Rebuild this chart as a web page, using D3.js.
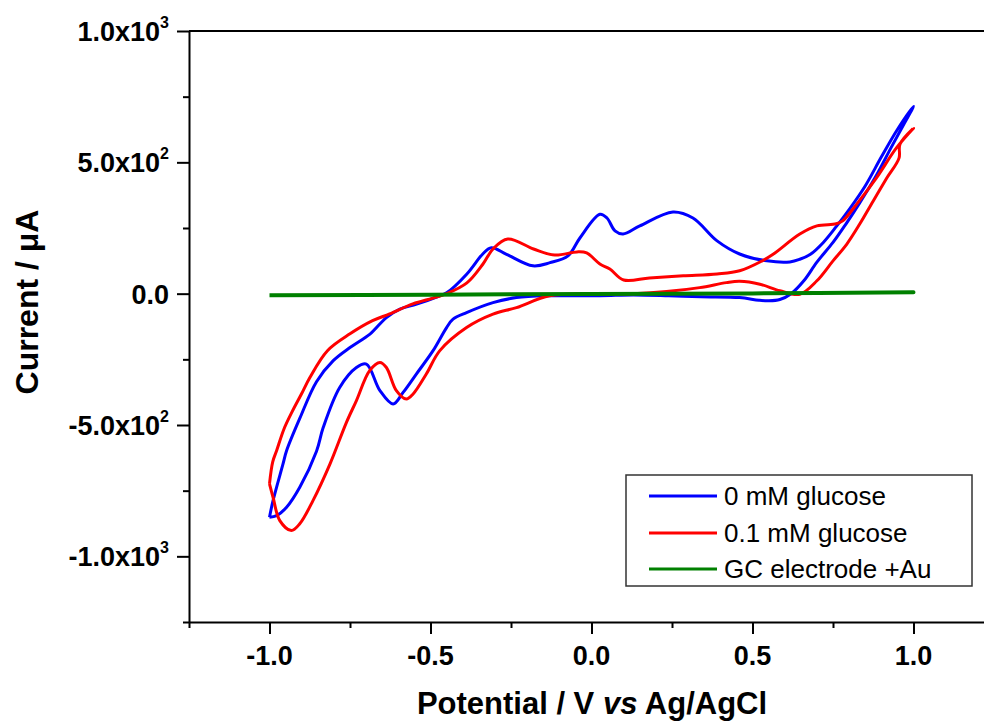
<!DOCTYPE html>
<html>
<head>
<meta charset="utf-8">
<script src="https://cdn.jsdelivr.net/npm/d3@7"></script>
<style>
  body { margin: 0; background: #fff; }
  svg { display: block; font-family: "Liberation Sans", Arial, sans-serif; }
</style>
</head>
<body>
<div id="chart"></div>
<script>
// 0 mM glucose (blue): forward scan then reverse scan
const blueV = [-1.0, -0.989, -0.958, -0.947, -0.906, -0.854, -0.802, -0.75, -0.688, -0.637, -0.595, -0.543, -0.471, -0.45,
  -0.387, -0.337, -0.311, -0.264, -0.182, -0.129, -0.073, -0.036, 0.026, 0.048, 0.073, 0.098, 0.15, 0.253, 0.315, 0.39,
  0.46, 0.545, 0.616, 0.647, 0.68, 0.72, 0.76, 0.80, 0.85, 0.90, 0.95, 1.0,
  0.97, 0.93, 0.88, 0.83, 0.79, 0.75, 0.70, 0.66, 0.62, 0.585, 0.55, 0.52, 0.46, 0.34, 0.24, 0.13, 0.026, -0.13, -0.233,
  -0.306, -0.388, -0.43, -0.45, -0.492, -0.544, -0.585, -0.616, -0.657, -0.699, -0.73, -0.782, -0.833, -0.854, -0.906,
  -0.947, -0.978, -1.0];
const blueI = [-851, -788, -648, -598, -475, -335, -255, -205, -154, -91, -59, -40, -8, 3,
  75, 152, 175, 150, 106, 118, 144, 212, 302, 288, 239, 227, 258, 311, 288, 201,
  151, 125, 121, 131, 150, 195, 255, 320, 410, 520, 625, 713,
  645, 555, 440, 340, 265, 195, 120, 50, 0, -22, -27, -25, -15, -12, -8, -5, -8, -8, -15,
  -34, -72, -97, -129, -217, -306, -376, -420, -369, -268, -281, -357, -509, -600, -737,
  -813, -845, -851];

// 0.1 mM glucose (red)
const redV = [-1.0, -0.99, -0.978, -0.955, -0.93, -0.9, -0.875, -0.82, -0.75, -0.68, -0.627, -0.555, -0.49, -0.45,
  -0.387, -0.337, -0.306, -0.26, -0.18, -0.114, -0.045, -0.015, 0.026, 0.057, 0.1, 0.18, 0.285, 0.39, 0.46, 0.53,
  0.564, 0.647, 0.70, 0.76, 0.78, 0.823, 0.885, 0.947, 1.0,
  0.958, 0.955, 0.917, 0.875, 0.833, 0.793, 0.75, 0.70, 0.647, 0.585, 0.523, 0.46, 0.419, 0.336, 0.233, 0.13, 0.026,
  -0.13, -0.233, -0.306, -0.388, -0.471, -0.513, -0.554, -0.575, -0.606, -0.637, -0.657, -0.689, -0.73, -0.761, -0.812,
  -0.865, -0.906, -0.932, -0.968, -0.989, -1.0];
const redI = [-724, -640, -598, -515, -450, -380, -320, -217, -153, -103, -77, -39, -16, 0,
  41, 113, 170, 208, 170, 147, 159, 155, 113, 94, 52, 60, 68, 75, 87, 125,
  150, 227, 258, 266, 277, 340, 441, 555, 630,
  569, 516, 440, 353, 265, 189, 125, 49, -2, 11, 36, 47, 42, 23, 8, 0, -2,
  -8, -53, -78, -129, -217, -306, -382, -401, -369, -281, -262, -293, -407, -490, -648,
  -788, -876, -902, -864, -775, -724];

// GC electrode +Au (green)
const greenV = [-1.0, -0.5, 0.0, 0.5, 1.0, 0.5, 0.0, -0.5, -1.0];
const greenI = [-6, -4, -1, 1, 5, 1, -1, -4, -6];

const seriesNames = ["0 mM glucose", "0.1 mM glucose", "GC electrode +Au"];
const seriesColors = ["#0000ff", "#ff0000", "#008000"];

const xMajor = [-1.0, -0.5, 0.0, 0.5, 1.0];
const xMinor = [-1.25, -0.75, -0.25, 0.25, 0.75, 1.25];
const xLabels = ["-1.0", "-0.5", "0.0", "0.5", "1.0"];
const yMajor = [-1000, -500, 0, 500, 1000];
const yMinor = [-1250, -750, -250, 250, 750];
const yLabels = [["-1.0x10", "3"], ["-5.0x10", "2"], ["0.0", ""], ["5.0x10", "2"], ["1.0x10", "3"]];

const width = 984, height = 722;
const m = { left: 189, right: 994, top: 31, bottom: 622 };

const svg = d3.select("#chart").append("svg")
  .attr("width", width).attr("height", height);

const x = d3.scaleLinear().domain([-1.25, 1.25]).range([m.left, m.right]);
const y = d3.scaleLinear().domain([-1250, 1000]).range([m.bottom, m.top]);

// frame (top and right)
svg.append("line").attr("x1", m.left).attr("x2", m.right).attr("y1", m.top).attr("y2", m.top)
  .attr("stroke", "#000").attr("stroke-width", 2);
svg.append("line").attr("x1", m.right).attr("x2", m.right).attr("y1", m.top).attr("y2", m.bottom)
  .attr("stroke", "#000").attr("stroke-width", 2);

function styleAxis(g) {
  g.selectAll("path, line").attr("stroke", "#000").attr("stroke-width", 2);
  g.selectAll("text").remove();
}

svg.append("g").attr("transform", `translate(0,${m.bottom})`)
  .call(d3.axisBottom(x).tickValues(xMajor).tickSize(12).tickSizeOuter(0).tickFormat(""))
  .call(styleAxis);
svg.append("g").attr("transform", `translate(0,${m.bottom})`)
  .call(d3.axisBottom(x).tickValues(xMinor).tickSize(6).tickFormat(""))
  .call(g => g.select(".domain").remove())
  .call(styleAxis);
svg.append("g").attr("transform", `translate(${m.left},0)`)
  .call(d3.axisLeft(y).tickValues(yMajor).tickSize(12).tickSizeOuter(0).tickFormat(""))
  .call(styleAxis);
svg.append("g").attr("transform", `translate(${m.left},0)`)
  .call(d3.axisLeft(y).tickValues(yMinor).tickSize(6).tickFormat(""))
  .call(g => g.select(".domain").remove())
  .call(styleAxis);

// tick labels
svg.append("g").selectAll("text").data(xMajor).enter().append("text")
  .attr("x", d => x(d)).attr("y", 665)
  .attr("text-anchor", "middle")
  .attr("font-size", 27).attr("font-weight", "bold")
  .text((d, i) => xLabels[i]);

const yl = svg.append("g").selectAll("text").data(yMajor).enter().append("text")
  .attr("x", 169).attr("y", d => y(d) + 10)
  .attr("text-anchor", "end")
  .attr("font-size", 27).attr("font-weight", "bold");
yl.append("tspan").text((d, i) => yLabels[i][0]);
yl.append("tspan").attr("font-size", 16).attr("dy", -13)
  .text((d, i) => yLabels[i][1]);

// axis titles
svg.append("text")
  .attr("transform", "translate(38,302) rotate(-90)")
  .attr("text-anchor", "middle")
  .attr("font-size", 32).attr("font-weight", "bold")
  .text("Current / μA");

const xt = svg.append("text")
  .attr("x", 592).attr("y", 714)
  .attr("text-anchor", "middle")
  .attr("font-size", 31).attr("font-weight", "bold");
xt.append("tspan").text("Potential / V ");
xt.append("tspan").attr("font-style", "italic").text("vs");
xt.append("tspan").text(" Ag/AgCl");

// curves
const line = d3.line()
  .x(d => x(d[0])).y(d => y(d[1]))
  .curve(d3.curveCatmullRom.alpha(0.5));

const series = [
  [blueV, blueI, 3],
  [redV, redI, 3],
  [greenV, greenI, 4]
];

series.forEach((s, i) => {
  const pts = s[0].map((v, j) => [v, s[1][j]]);
  svg.append("path")
    .datum(pts)
    .attr("d", line)
    .attr("fill", "none")
    .attr("stroke", seriesColors[i])
    .attr("stroke-width", s[2])
    .attr("stroke-linejoin", "round");
});

// legend
const lg = svg.append("g");
lg.append("rect").attr("x", 626).attr("y", 475).attr("width", 346).attr("height", 111)
  .attr("fill", "#fff").attr("stroke", "#333").attr("stroke-width", 1.5);
const rowY = [496, 533, 569];
seriesNames.forEach((name, i) => {
  lg.append("line").attr("x1", 649).attr("x2", 717).attr("y1", rowY[i]).attr("y2", rowY[i])
    .attr("stroke", seriesColors[i]).attr("stroke-width", 3);
  lg.append("text").attr("x", 724).attr("y", rowY[i] + 9)
    .attr("font-size", 26).text(name);
});
</script>
</body>
</html>
